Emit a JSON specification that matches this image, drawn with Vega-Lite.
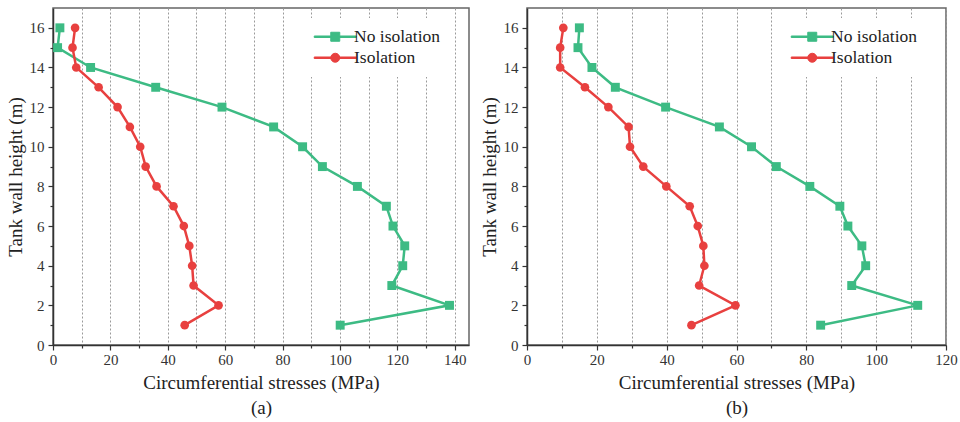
{
  "$schema": "https://vega.github.io/schema/vega-lite/v6.json",
  "background": "white",
  "padding": {"left": 5, "top": 7, "right": 5, "bottom": 0},
  "config": {
    "font": "Liberation Serif",
    "view": {"stroke": "#666", "strokeWidth": 1.5},
    "axis": {
      "labelFont": "Liberation Serif", "labelFontSize": 15, "labelColor": "#333",
      "titleFont": "Liberation Serif", "titleFontSize": 19, "titleColor": "#222", "titleFontWeight": "normal",
      "domainColor": "#333", "domainWidth": 1.5, "tickColor": "#333", "tickWidth": 1.2,
      "labelOverlap": false, "labelFlush": false
    },
    "legend": {"labelFont": "Liberation Serif", "labelFontSize": 17.5, "labelColor": "#222", "symbolStrokeWidth": 1}
  },
  "datasets": {
    "d": [
      {"p":"a","s":"No isolation","h":16,"x":2.4},{"p":"a","s":"No isolation","h":15,"x":1.6},{"p":"a","s":"No isolation","h":14,"x":13.1},{"p":"a","s":"No isolation","h":13,"x":35.8},
      {"p":"a","s":"No isolation","h":12,"x":58.9},{"p":"a","s":"No isolation","h":11,"x":76.9},{"p":"a","s":"No isolation","h":10,"x":87.0},{"p":"a","s":"No isolation","h":9,"x":93.9},
      {"p":"a","s":"No isolation","h":8,"x":106.1},{"p":"a","s":"No isolation","h":7,"x":116.2},{"p":"a","s":"No isolation","h":6,"x":118.5},{"p":"a","s":"No isolation","h":5,"x":122.6},
      {"p":"a","s":"No isolation","h":4,"x":121.9},{"p":"a","s":"No isolation","h":3,"x":118.1},{"p":"a","s":"No isolation","h":2,"x":138.2},{"p":"a","s":"No isolation","h":1,"x":100.1},
      {"p":"a","s":"Isolation","h":16,"x":7.7},{"p":"a","s":"Isolation","h":15,"x":6.8},{"p":"a","s":"Isolation","h":14,"x":8.1},{"p":"a","s":"Isolation","h":13,"x":15.9},
      {"p":"a","s":"Isolation","h":12,"x":22.5},{"p":"a","s":"Isolation","h":11,"x":26.8},{"p":"a","s":"Isolation","h":10,"x":30.4},{"p":"a","s":"Isolation","h":9,"x":32.3},
      {"p":"a","s":"Isolation","h":8,"x":36.1},{"p":"a","s":"Isolation","h":7,"x":42.0},{"p":"a","s":"Isolation","h":6,"x":45.6},{"p":"a","s":"Isolation","h":5,"x":47.5},
      {"p":"a","s":"Isolation","h":4,"x":48.5},{"p":"a","s":"Isolation","h":3,"x":49.0},{"p":"a","s":"Isolation","h":2,"x":57.7},{"p":"a","s":"Isolation","h":1,"x":45.9},
      {"p":"b","s":"No isolation","h":16,"x":15.0},{"p":"b","s":"No isolation","h":15,"x":14.6},{"p":"b","s":"No isolation","h":14,"x":18.6},{"p":"b","s":"No isolation","h":13,"x":25.3},
      {"p":"b","s":"No isolation","h":12,"x":39.7},{"p":"b","s":"No isolation","h":11,"x":55.1},{"p":"b","s":"No isolation","h":10,"x":64.3},{"p":"b","s":"No isolation","h":9,"x":71.4},
      {"p":"b","s":"No isolation","h":8,"x":81.0},{"p":"b","s":"No isolation","h":7,"x":89.6},{"p":"b","s":"No isolation","h":6,"x":91.9},{"p":"b","s":"No isolation","h":5,"x":95.9},
      {"p":"b","s":"No isolation","h":4,"x":97.0},{"p":"b","s":"No isolation","h":3,"x":93.0},{"p":"b","s":"No isolation","h":2,"x":111.9},{"p":"b","s":"No isolation","h":1,"x":84.1},
      {"p":"b","s":"Isolation","h":16,"x":10.4},{"p":"b","s":"Isolation","h":15,"x":9.5},{"p":"b","s":"Isolation","h":14,"x":9.5},{"p":"b","s":"Isolation","h":13,"x":16.6},
      {"p":"b","s":"Isolation","h":12,"x":23.3},{"p":"b","s":"Isolation","h":11,"x":29.1},{"p":"b","s":"Isolation","h":10,"x":29.5},{"p":"b","s":"Isolation","h":9,"x":33.3},
      {"p":"b","s":"Isolation","h":8,"x":39.9},{"p":"b","s":"Isolation","h":7,"x":46.6},{"p":"b","s":"Isolation","h":6,"x":48.9},{"p":"b","s":"Isolation","h":5,"x":50.5},
      {"p":"b","s":"Isolation","h":4,"x":50.8},{"p":"b","s":"Isolation","h":3,"x":49.3},{"p":"b","s":"Isolation","h":2,"x":59.7},{"p":"b","s":"Isolation","h":1,"x":47.1}
    ]
  },
  "spacing": 9,
  "resolve": {"scale": {"color": "independent", "shape": "independent", "x": "independent", "y": "independent"}, "legend": {"color": "independent", "shape": "independent"}},
  "hconcat": [
    {
      "width": 416, "height": 337,
      "data": {"name": "d"},
      "transform": [{"filter": "datum.p === 'a'"}],
      "encoding": {
        "x": {"field": "x", "type": "quantitative",
          "scale": {"domain": [0, 145], "nice": false},
          "axis": {"title": ["Circumferential stresses (MPa)", "(a)"], "titleLineHeight": 25, "titlePadding": 6,
            "values": [0,10,20,30,40,50,60,70,80,90,100,110,120,130,140],
            "labelExpr": "datum.value % 20 === 0 ? datum.label : ''",
            "tickSize": {"condition": {"test": "datum.value % 20 !== 0", "value": 3}, "value": 5},
            "labelPadding": 2,
            "grid": true, "gridDash": [2, 2], "gridColor": "#9a9a9a", "gridWidth": 1}},
        "y": {"field": "h", "type": "quantitative",
          "scale": {"domain": [0, 17], "nice": false},
          "axis": {"title": "Tank wall height (m)", "titlePadding": 4, "grid": false,
            "values": [0,1,2,3,4,5,6,7,8,9,10,11,12,13,14,15,16],
            "labelExpr": "datum.value % 2 === 0 ? datum.label : ''",
            "tickSize": {"condition": {"test": "datum.value % 2 !== 0", "value": 3}, "value": 5},
            "labelPadding": 4}},
        "order": {"field": "h", "type": "quantitative"}
      },
      "layer": [
        {"transform": [{"filter": "false"}],
          "mark": {"type": "point", "filled": true, "opacity": 1},
          "encoding": {
            "color": {"field": "s", "type": "nominal",
              "scale": {"domain": ["No isolation", "Isolation"], "range": ["#3dbb84", "#e8403f"]},
              "legend": {"title": null, "orient": "none", "legendX": 247, "legendY": 10, "direction": "vertical",
                "padding": 10, "fillColor": "white", "rowPadding": 2, "symbolSize": 81, "symbolOffset": 16.5, "labelOffset": 10}},
            "shape": {"field": "s", "type": "nominal",
              "scale": {"domain": ["No isolation", "Isolation"], "range": ["M-4.667,-0.17H-1V0.17H-4.667ZM1,-0.17H4.667V0.17H1ZM-1,-1H1V1H-1Z", "M-4.667,-0.17H-0.96V0.17H-4.667ZM0.96,-0.17H4.667V0.17H0.96ZM-1,0A1,1,0,1,1,1,0A1,1,0,1,1,-1,0Z"]},
              "legend": {"title": null, "orient": "none", "legendX": 247, "legendY": 10, "direction": "vertical",
                "padding": 10, "fillColor": "white", "rowPadding": 2, "symbolSize": 81, "symbolOffset": 16.5, "labelOffset": 10}}}},
        {"mark": {"type": "line", "strokeWidth": 2.5},
          "encoding": {"color": {"field": "s", "type": "nominal"}}},
        {"transform": [{"filter": "datum.s === 'No isolation'"}],
          "mark": {"type": "point", "shape": "square", "filled": true, "opacity": 1, "size": 80},
          "encoding": {"color": {"field": "s", "type": "nominal"}}},
        {"transform": [{"filter": "datum.s === 'Isolation'"}],
          "mark": {"type": "point", "shape": "circle", "filled": true, "opacity": 1, "size": 75},
          "encoding": {"color": {"field": "s", "type": "nominal"}}}
      ]
    },
    {
      "width": 419, "height": 337,
      "data": {"name": "d"},
      "transform": [{"filter": "datum.p === 'b'"}],
      "encoding": {
        "x": {"field": "x", "type": "quantitative",
          "scale": {"domain": [0, 120], "nice": false},
          "axis": {"title": ["Circumferential stresses (MPa)", "(b)"], "titleLineHeight": 25, "titlePadding": 6,
            "values": [0,10,20,30,40,50,60,70,80,90,100,110,120],
            "labelExpr": "datum.value % 20 === 0 ? datum.label : ''",
            "tickSize": {"condition": {"test": "datum.value % 20 !== 0", "value": 3}, "value": 5},
            "labelPadding": 2,
            "grid": true, "gridDash": [2, 2], "gridColor": "#9a9a9a", "gridWidth": 1}},
        "y": {"field": "h", "type": "quantitative",
          "scale": {"domain": [0, 17], "nice": false},
          "axis": {"title": "Tank wall height (m)", "titlePadding": 4, "grid": false,
            "values": [0,1,2,3,4,5,6,7,8,9,10,11,12,13,14,15,16],
            "labelExpr": "datum.value % 2 === 0 ? datum.label : ''",
            "tickSize": {"condition": {"test": "datum.value % 2 !== 0", "value": 3}, "value": 5},
            "labelPadding": 4}},
        "order": {"field": "h", "type": "quantitative"}
      },
      "layer": [
        {"transform": [{"filter": "false"}],
          "mark": {"type": "point", "filled": true, "opacity": 1},
          "encoding": {
            "color": {"field": "s", "type": "nominal",
              "scale": {"domain": ["No isolation", "Isolation"], "range": ["#3dbb84", "#e8403f"]},
              "legend": {"title": null, "orient": "none", "legendX": 250, "legendY": 10, "direction": "vertical",
                "padding": 10, "fillColor": "white", "rowPadding": 2, "symbolSize": 81, "symbolOffset": 16.5, "labelOffset": 10}},
            "shape": {"field": "s", "type": "nominal",
              "scale": {"domain": ["No isolation", "Isolation"], "range": ["M-4.667,-0.17H-1V0.17H-4.667ZM1,-0.17H4.667V0.17H1ZM-1,-1H1V1H-1Z", "M-4.667,-0.17H-0.96V0.17H-4.667ZM0.96,-0.17H4.667V0.17H0.96ZM-1,0A1,1,0,1,1,1,0A1,1,0,1,1,-1,0Z"]},
              "legend": {"title": null, "orient": "none", "legendX": 250, "legendY": 10, "direction": "vertical",
                "padding": 10, "fillColor": "white", "rowPadding": 2, "symbolSize": 81, "symbolOffset": 16.5, "labelOffset": 10}}}},
        {"mark": {"type": "line", "strokeWidth": 2.5},
          "encoding": {"color": {"field": "s", "type": "nominal"}}},
        {"transform": [{"filter": "datum.s === 'No isolation'"}],
          "mark": {"type": "point", "shape": "square", "filled": true, "opacity": 1, "size": 80},
          "encoding": {"color": {"field": "s", "type": "nominal"}}},
        {"transform": [{"filter": "datum.s === 'Isolation'"}],
          "mark": {"type": "point", "shape": "circle", "filled": true, "opacity": 1, "size": 75},
          "encoding": {"color": {"field": "s", "type": "nominal"}}}
      ]
    }
  ]
}
